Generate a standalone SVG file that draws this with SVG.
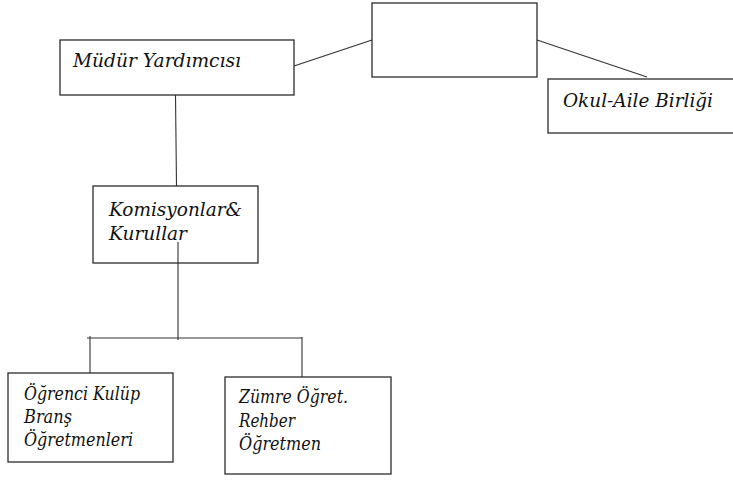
<svg xmlns="http://www.w3.org/2000/svg" width="733" height="487" viewBox="0 0 733 487">
<style>
.box{fill:#fff;stroke:#2b2b2b;stroke-width:1.3}
.ln{stroke:#333;stroke-width:1.1;fill:none}
.t{font-family:"DejaVu Serif","Liberation Serif",serif;font-style:italic;font-size:19px;fill:#111}
</style>
<rect width="733" height="487" fill="#fff"/>
<g id="connectors">
<line class="ln" x1="294" y1="66" x2="372" y2="40"/>
<line class="ln" x1="537" y1="40" x2="647" y2="77"/>
<line class="ln" x1="175.5" y1="95" x2="176.5" y2="186"/>
<line class="ln" x1="178" y1="242" x2="178" y2="340"/>
<line class="ln" x1="87" y1="338" x2="302" y2="338"/>
<line class="ln" x1="90" y1="336" x2="90" y2="373"/>
<line class="ln" x1="302" y1="337" x2="302" y2="377"/>
</g>
<g id="top-box">
<rect class="box" x="372" y="3" width="165" height="74"/>
</g>
<g id="mudur-yardimcisi">
<rect class="box" x="60" y="40" width="234" height="55"/>
<text class="t" x="73" y="67" textLength="168" lengthAdjust="spacingAndGlyphs">Müdür Yardımcısı</text>
</g>
<g id="okul-aile-birligi">
<rect class="box" x="548" y="79" width="190" height="54"/>
<text class="t" x="563" y="107" textLength="150" lengthAdjust="spacingAndGlyphs">Okul-Aile Birliği</text>
</g>
<g id="komisyonlar-kurullar">
<rect class="box" x="93" y="186" width="165" height="77"/>
<text class="t" x="109" y="216" textLength="133" lengthAdjust="spacingAndGlyphs">Komisyonlar&amp;</text>
<text class="t" x="109" y="240" textLength="78" lengthAdjust="spacingAndGlyphs">Kurullar</text>
<line class="ln" x1="178" y1="242" x2="178" y2="263"/>
</g>
<g id="ogrenci-kulup">
<rect class="box" x="8" y="373" width="165" height="89"/>
<text class="t" x="24" y="400" textLength="116" lengthAdjust="spacingAndGlyphs">Öğrenci Kulüp</text>
<text class="t" x="24" y="423" textLength="48" lengthAdjust="spacingAndGlyphs">Branş</text>
<text class="t" x="24" y="446" textLength="109" lengthAdjust="spacingAndGlyphs">Öğretmenleri</text>
</g>
<g id="zumre-ogret">
<rect class="box" x="225" y="377" width="166" height="97"/>
<text class="t" x="239" y="403" textLength="109" lengthAdjust="spacingAndGlyphs">Zümre Öğret.</text>
<text class="t" x="239" y="427" textLength="56" lengthAdjust="spacingAndGlyphs">Rehber</text>
<text class="t" x="239" y="450" textLength="82" lengthAdjust="spacingAndGlyphs">Öğretmen</text>
</g>
</svg>
